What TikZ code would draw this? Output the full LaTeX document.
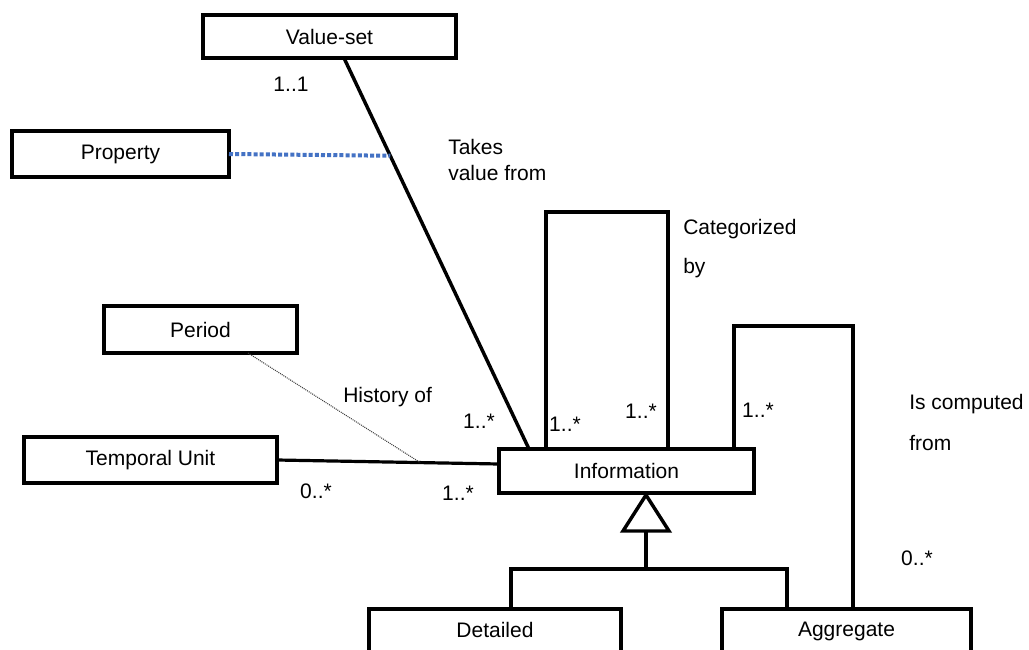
\documentclass[tikz,border=0pt]{standalone}
\usepackage{fontspec}
\setmainfont{Liberation Sans}
\usetikzlibrary{calc}
\definecolor{linkblue}{RGB}{68,114,196}
\begin{document}
\begin{tikzpicture}[x=0.75pt,y=-0.75pt,
  every node/.style={font=\fontsize{15.75}{19}\selectfont},
  box/.style={draw,line width=3pt,fill=white,inner sep=0pt,outer sep=0pt},
  assoc/.style={line width=2.6pt,line join=miter},
  mult/.style={anchor=base,inner sep=0pt},
  lbl/.style={anchor=north west,inner sep=0pt,align=left},
  histline/.style={line width=0.8pt,dash pattern=on 0.75pt off 0.75pt,black!75},
  propline/.style={line width=3pt,dash pattern=on 3pt off 1.6pt,linkblue}]
\useasboundingbox (0,0) rectangle (1029,650);
\clip (0,0) rectangle (1029,650);

% classes
\node[box,minimum width=253*0.75pt,minimum height=43*0.75pt] (vs)   at (329.5,36.5) {Value-set};
\node[box,minimum width=217*0.75pt,minimum height=46*0.75pt] (prop) at (120.5,154)  {Property};
\node[box,minimum width=193*0.75pt,minimum height=47*0.75pt] (per)  at (200.5,329.5) {Period};
\node[box,minimum width=253*0.75pt,minimum height=46*0.75pt] (tu)   at (150.5,460)  {Temporal Unit};
\node[box,minimum width=255*0.75pt,minimum height=44*0.75pt] (info) at (626.5,471)  {Information};
\node[box,minimum width=252*0.75pt,minimum height=44*0.75pt] (det)  at (495,631)    {\raisebox{3\dimexpr0.75pt}{Detailed}};
\node[box,minimum width=249*0.75pt,minimum height=44*0.75pt] (agg)  at (846.5,631)  {\raisebox{3\dimexpr0.75pt}{Aggregate}};

% association: takes value from
\coordinate (vsA) at ($(vs.south)+(14.5,0)$);
\coordinate (vsB) at ($(info.north west)+(30,0)$);
\draw[assoc] (vsA) -- (vsB);
\coordinate (propEnd) at ($(vsA)!0.25!(vsB)$);
\draw[propline] (prop.east) -- (propEnd);

% association: temporal unit -- information, with its history class
\coordinate (tuB) at ($(info.west)+(0,-7)$);
\draw[assoc,line width=2.4pt] (tu.east) -- (tuB);
\coordinate (histEnd) at ($(tu.east)!0.645!(tuB)$);
\draw[histline] ($(per.south)+(47.5,0)$) -- (histEnd);

% reflexive association: categorized by
\coordinate (catL) at ($(info.north west)+(47,0)$);
\coordinate (catR) at ($(info.north west)+(169,0)$);
\draw[assoc] (catL) -- (catL |- 0,212) -- (catR |- 0,212) -- (catR);

% association: is computed from
\coordinate (cmpA) at ($(info.north west)+(235,0)$);
\coordinate (cmpB) at ($(agg.north west)+(131,0)$);
\draw[assoc] (cmpA) -- (cmpA |- 0,326) -- (cmpB |- 0,326) -- (cmpB);

% generalization
\coordinate (apex) at ($(info.south)+(19.5,2)$);
\draw[assoc,fill=white,line join=miter] (apex) -- ++(-23,36) -- ++(46,0) -- cycle;
\coordinate (genBase) at ($(apex)+(0,36)$);
\coordinate (detTop) at ($(det.north west)+(142,0)$);
\coordinate (aggTop) at ($(agg.north west)+(65,0)$);
\draw[assoc] (genBase) -- (genBase |- 0,569);
\draw[assoc] (detTop) -- (detTop |- 0,569) -- (aggTop |- 0,569) -- (aggTop);

% association names
\node[lbl,font=\fontsize{15.75}{19.5}\selectfont] (tvf) at (448,139) {Takes\\value from};
\node[lbl,font=\fontsize{15.75}{29.25}\selectfont] (cby) at (683,219) {Categorized\\by};
\node[lbl,font=\fontsize{15.75}{30.75}\selectfont] (icf) at (909,394) {Is computed\\from};
\node[lbl] (hof) at (343,387) {History of};

% multiplicities
\node[mult] (m1) at (291,91)  {1..1};
\node[mult] (m2) at (479,428) {1..*};
\node[mult] (m3) at (565,431) {1..*};
\node[mult] (m4) at (641,418) {1..*};
\node[mult] (m5) at (758,417) {1..*};
\node[mult] (m6) at (917,565) {0..*};
\node[mult] (m7) at (316,498) {0..*};
\node[mult] (m8) at (458,500) {1..*};
\end{tikzpicture}
\end{document}
